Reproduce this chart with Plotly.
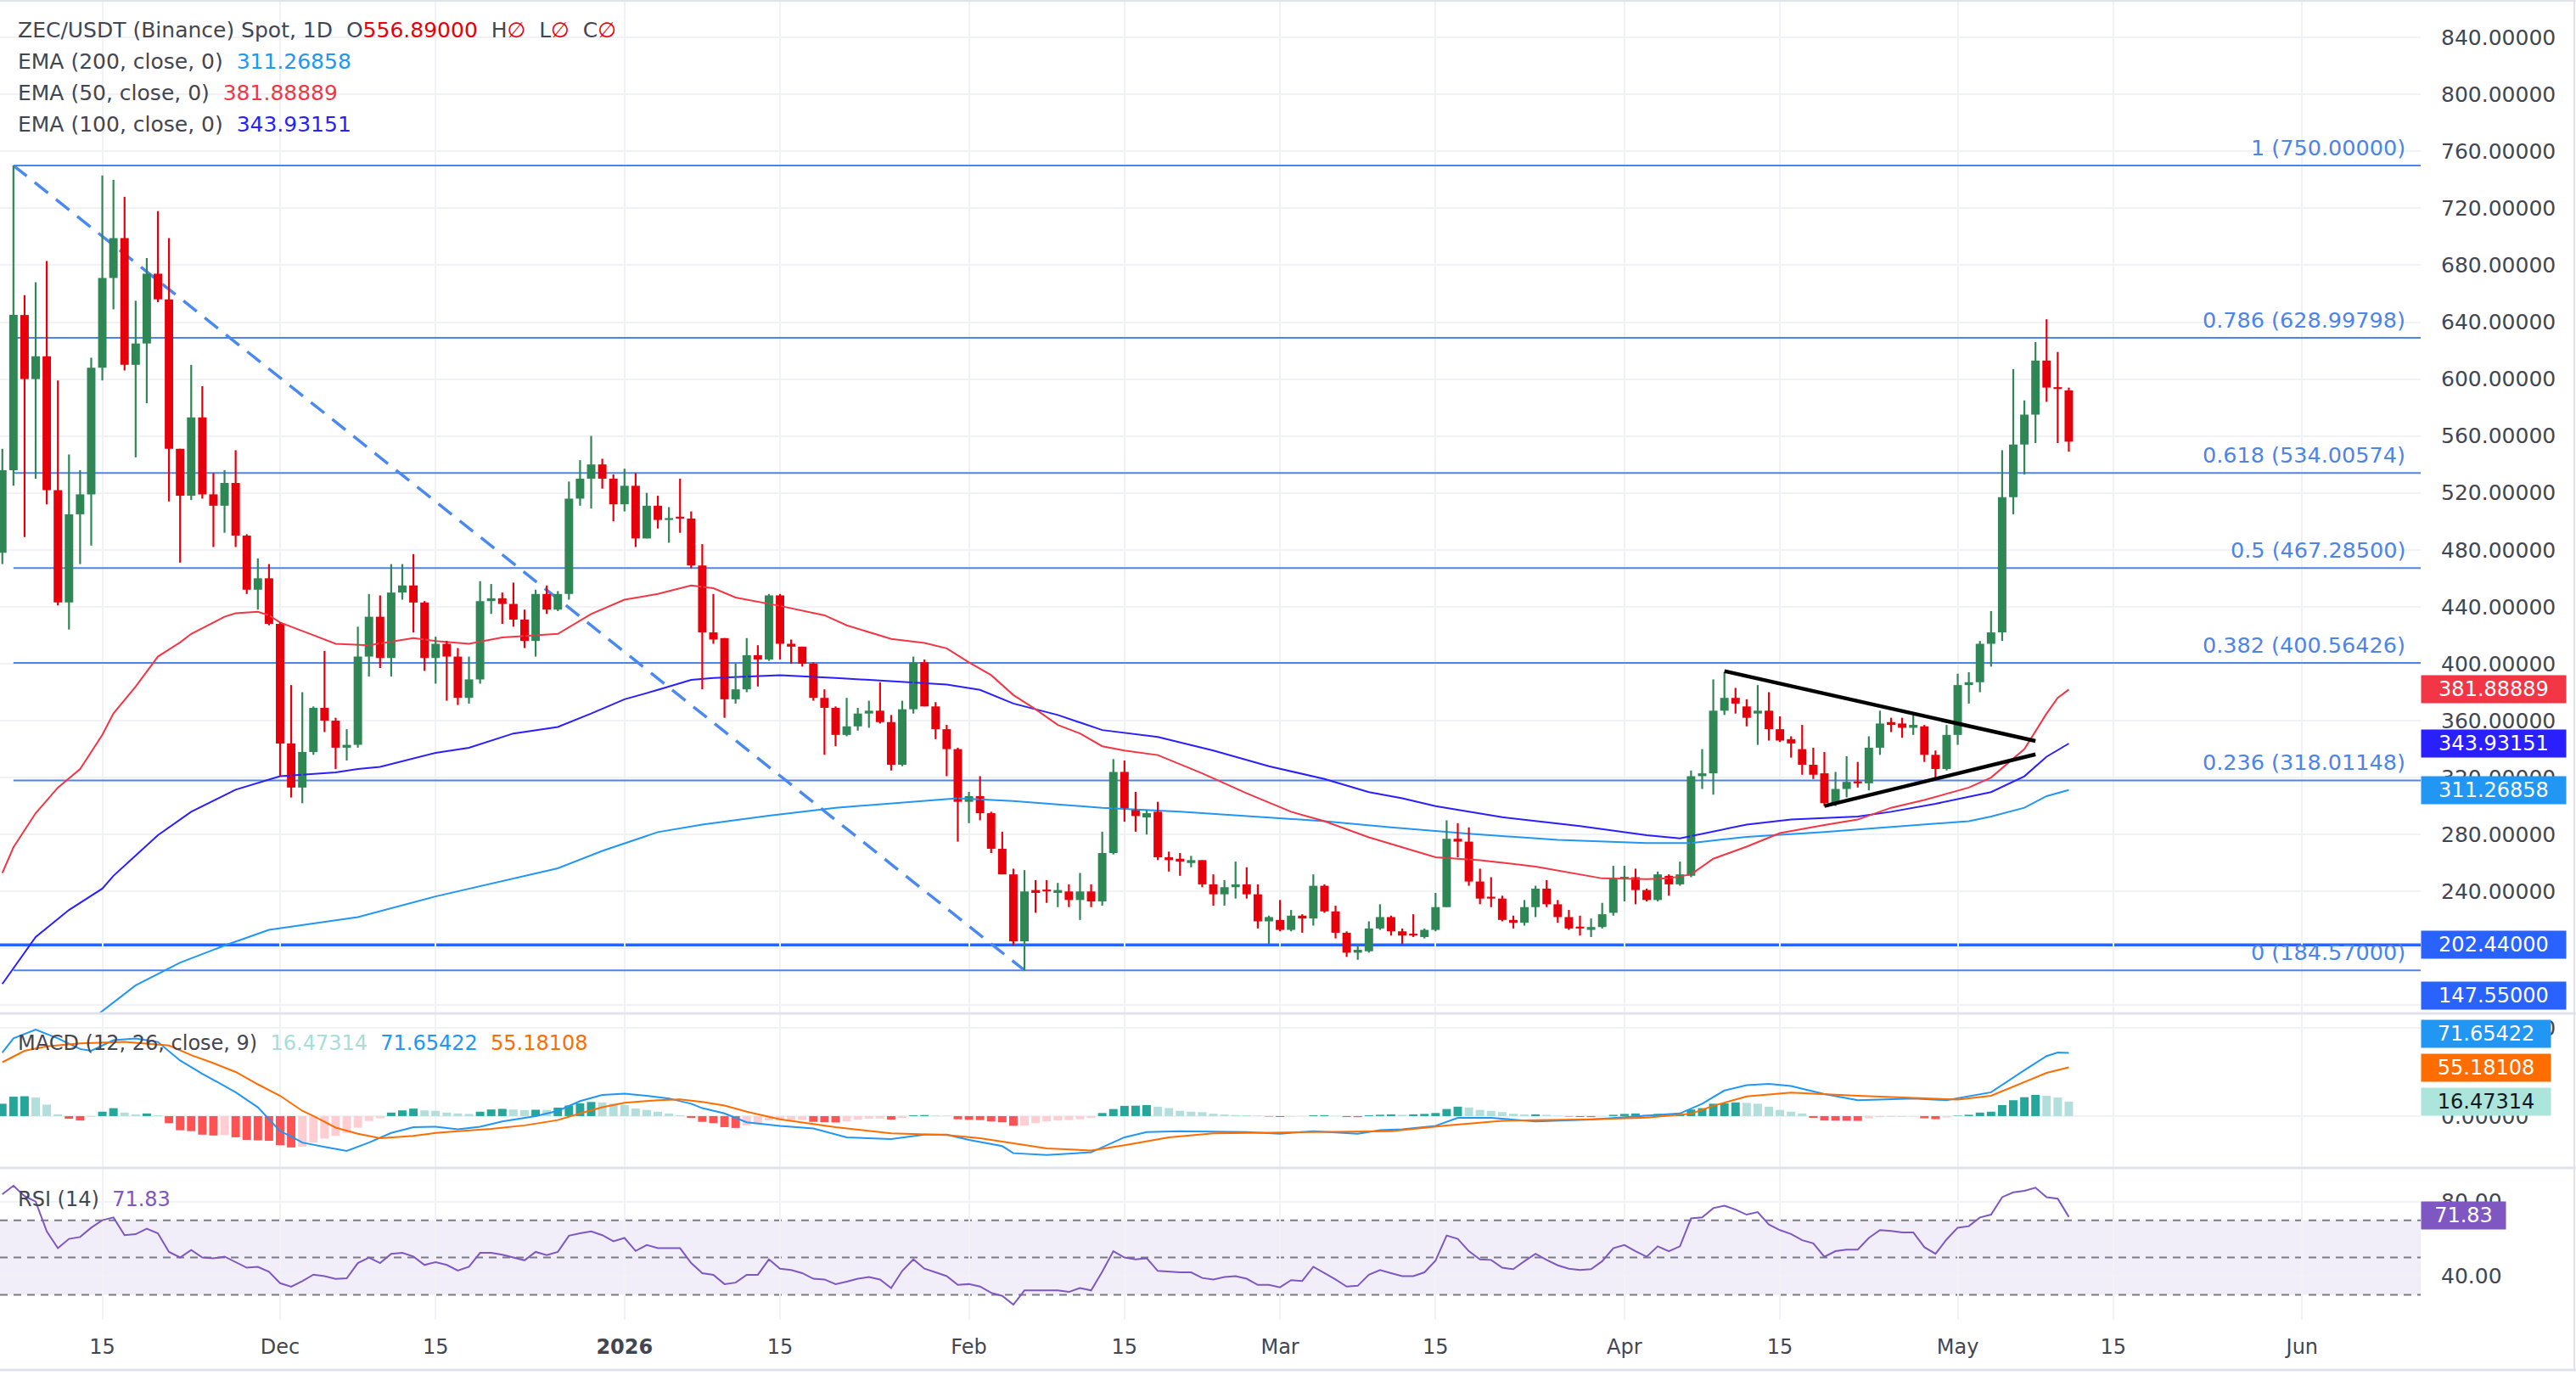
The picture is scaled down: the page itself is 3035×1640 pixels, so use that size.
import pandas as pd
import plotly.graph_objects as go

# ---------------------------------------------------------------- data
start_date = "2025-11-06"
end_date = "2026-05-11"

opens = [
    478, 536, 645, 600, 616, 522, 443, 505, 519, 608, 671, 699, 610, 625, 674, 656, 551, 518, 573, 519, 511, 527, 490, 452, 460,
    428, 344, 313, 338, 369, 360, 341, 343, 405, 433, 404, 450, 455, 443, 404, 414, 405, 376, 389, 444, 446, 442, 431, 416, 449, 438, 449, 516, 530, 540, 530,
    512, 525, 488, 511, 501, 503, 502, 469, 422, 418, 375, 382, 406, 403, 448, 414, 412, 400, 376, 369, 350, 356, 365, 367, 359, 329, 368, 401, 370, 354, 340,
    303, 307, 295, 270, 252, 205, 241, 241, 239, 240, 234, 240, 233, 267, 324, 298, 292, 296, 264, 263, 260, 262, 245, 238, 243, 245, 238, 219,
    220, 213, 223, 221, 244, 226, 211, 197, 198, 214, 222, 212, 210, 208, 213, 229, 277, 275, 247, 236, 235, 220, 218, 229, 242, 231, 222, 215, 213, 215, 225,
    249, 250, 241, 234, 251, 245, 251, 321, 323, 367, 376, 370, 365, 367, 354, 347, 340, 329, 323, 302, 312, 317, 316, 341, 359, 358, 355, 356, 336, 326,
    350, 385, 387, 414, 422, 517, 554, 575, 613, 594, 592,
]
highs = [
    551, 750, 659, 668, 683, 599, 547, 536, 615, 743, 740, 728, 655, 685, 718, 699, 551, 610, 595, 534, 536, 550, 491, 474, 470,
    429, 385, 380, 370, 409, 362, 354, 426, 449, 448, 470, 470, 477, 444, 419, 416, 411, 405, 458, 456, 450, 457, 438, 452, 455, 451, 528, 543, 560, 544, 533,
    537, 534, 520, 518, 510, 530, 507, 484, 449, 418, 400, 418, 413, 449, 449, 417, 412, 401, 382, 370, 376, 369, 374, 387, 364, 374, 405, 403, 373, 357, 341,
    310, 321, 296, 282, 256, 255, 248, 248, 246, 245, 253, 245, 282, 333, 332, 310, 297, 303, 268, 267, 265, 262, 252, 248, 261, 257, 245, 223,
    234, 227, 224, 252, 245, 230, 212, 203, 219, 231, 223, 214, 224, 214, 239, 290, 288, 285, 256, 250, 237, 223, 234, 244, 248, 234, 227, 223, 221, 232, 258,
    258, 256, 242, 254, 252, 261, 325, 340, 389, 394, 383, 375, 385, 380, 363, 349, 357, 341, 338, 324, 335, 331, 349, 367, 362, 362, 364, 357, 339, 357,
    393, 394, 416, 437, 550, 607, 585, 626, 642, 619, 594,
]
lows = [
    470, 525, 489, 530, 512, 441, 424, 470, 483, 599, 649, 606, 545, 583, 654, 514, 471, 515, 516, 482, 492, 482, 449, 438, 427,
    321, 306, 302, 336, 352, 326, 332, 341, 391, 397, 391, 445, 422, 395, 386, 374, 371, 372, 386, 435, 428, 426, 411, 405, 435, 437, 445, 511, 509, 523, 500,
    507, 482, 488, 495, 485, 492, 467, 382, 414, 362, 372, 380, 384, 402, 403, 400, 398, 374, 336, 342, 349, 353, 355, 358, 325, 328, 365, 370, 347, 321, 275,
    288, 290, 267, 252, 202, 184.57, 225, 232, 229, 229, 220, 229, 230, 266, 289, 282, 280, 262, 254, 251, 257, 243, 230, 230, 235, 235, 214, 203,
    212, 212, 211, 216, 225, 207, 194, 192, 197, 213, 209, 203, 208, 207, 212, 229, 264, 244, 231, 229, 219, 214, 216, 222, 229, 218, 213, 209, 208, 214, 223,
    233, 231, 233, 233, 237, 244, 250, 312, 308, 364, 365, 356, 343, 346, 345, 334, 322, 319, 300, 300, 306, 313, 311, 336, 352, 348, 350, 331, 318, 325,
    343, 372, 380, 398, 416, 505, 533, 555, 584, 555, 549,
]
closes = [
    536, 645, 600, 616, 522, 443, 505, 519, 608, 671, 699, 610, 625, 674, 656, 551, 518, 573, 519, 511, 527, 490, 452, 460, 428,
    344, 313, 338, 369, 360, 341, 343, 405, 433, 404, 450, 455, 443, 404, 414, 405, 376, 389, 444, 446, 442, 431, 416, 449, 438, 449, 516, 530, 540, 530, 512,
    525, 488, 511, 501, 502, 502, 469, 422, 417, 375, 382, 406, 403, 448, 414, 412, 400, 376, 369, 350, 356, 365, 367, 359, 329, 368, 401, 370, 354, 340, 303,
    307, 295, 270, 252, 205, 240, 239, 240, 241, 234, 240, 233, 267, 324, 298, 293, 295, 264, 262, 261, 262, 245, 238, 243, 245, 238, 219, 222,
    213, 223, 221, 244, 226, 211, 197, 199, 214, 222, 212, 209, 209, 213, 229, 277, 275, 247, 235, 235, 220, 218, 229, 242, 231, 222, 214, 214, 215, 224, 249,
    250, 241, 234, 252, 245, 252, 321, 323, 367, 376, 372, 362, 367, 354, 346, 344, 329, 322, 302, 312, 317, 316, 341, 358, 357, 355, 357, 336, 326, 350,
    385, 387, 414, 422, 517, 554, 575, 613, 594, 593, 556,
]

ema50_dates = ["2025-11-06", "2025-11-07", "2025-11-09", "2025-11-11", "2025-11-13", "2025-11-15", "2025-11-16", "2025-11-18",
               "2025-11-20", "2025-11-22", "2025-11-23", "2025-11-26", "2025-11-27", "2025-11-29", "2025-11-30", "2025-12-01",
               "2025-12-04", "2025-12-06", "2025-12-09", "2025-12-13", "2025-12-15", "2025-12-18", "2025-12-21", "2025-12-26",
               "2025-12-29", "2026-01-01", "2026-01-04", "2026-01-07", "2026-01-09", "2026-01-11", "2026-01-15", "2026-01-19",
               "2026-01-21", "2026-01-25", "2026-01-28", "2026-01-30", "2026-02-01", "2026-02-03", "2026-02-05", "2026-02-07",
               "2026-02-09", "2026-02-11", "2026-02-13", "2026-02-15", "2026-02-18", "2026-02-22", "2026-02-26", "2026-03-02",
               "2026-03-05", "2026-03-09", "2026-03-12", "2026-03-15", "2026-03-19", "2026-03-24", "2026-03-30", "2026-04-03",
               "2026-04-05", "2026-04-07", "2026-04-09", "2026-04-12", "2026-04-15", "2026-04-19", "2026-04-22", "2026-04-25",
               "2026-04-28", "2026-05-02", "2026-05-04", "2026-05-07", "2026-05-09", "2026-05-10", "2026-05-11"]
ema50_vals = [253, 271, 295, 313, 326, 350, 365, 384, 405, 415, 421, 433, 435.5, 436.5, 434, 429, 420, 414, 413, 418, 416, 414,
              418.5, 421, 435, 445, 449, 455, 453, 446.5, 440.6, 434, 427, 417.4, 414.6, 410.8, 401, 392, 378, 368, 357, 351,
              342, 339, 335.8, 323, 309, 296, 289.4, 278, 271, 264, 262, 257.5, 249.2, 248.6, 249.2, 252, 263, 271.5, 281,
              286.7, 290.5, 298.8, 304.3, 313, 320, 340, 365, 376, 381.89]

ema100_dates = ["2025-11-06", "2025-11-09", "2025-11-12", "2025-11-15", "2025-11-16", "2025-11-20", "2025-11-23", "2025-11-27",
                "2025-12-01", "2025-12-06", "2025-12-08", "2025-12-10", "2025-12-15", "2025-12-18", "2025-12-22", "2025-12-26",
                "2025-12-29", "2026-01-01", "2026-01-04", "2026-01-07", "2026-01-09", "2026-01-15", "2026-01-20", "2026-01-27",
                "2026-01-30", "2026-02-02", "2026-02-05", "2026-02-09", "2026-02-13", "2026-02-18", "2026-02-23", "2026-02-28",
                "2026-03-05", "2026-03-09", "2026-03-12", "2026-03-15", "2026-03-21", "2026-03-28", "2026-04-03", "2026-04-06",
                "2026-04-09", "2026-04-12", "2026-04-16", "2026-04-22", "2026-04-25", "2026-04-29", "2026-05-04", "2026-05-07",
                "2026-05-09", "2026-05-11"]
ema100_vals = [175, 208, 227, 242, 251, 279.5, 296, 311.5, 321, 323.6, 326, 327.5, 337.4, 341, 351, 355.6, 365, 375, 381.6,
               388.7, 390, 392, 390, 387, 385.4, 381.6, 372, 364, 353.4, 348.5, 339, 328, 319, 309.8, 305.5, 300, 292.2, 286,
               279.5, 277.3, 282.3, 287, 290.5, 292.7, 296, 301.6, 309.8, 320.9, 334.7, 343.93]

ema200_dates = ["2025-11-14", "2025-11-16", "2025-11-18", "2025-11-22", "2025-11-26", "2025-11-30", "2025-12-04", "2025-12-08",
                "2025-12-15", "2025-12-22", "2025-12-26", "2025-12-30", "2026-01-04", "2026-01-08", "2026-01-14", "2026-01-20",
                "2026-01-27", "2026-01-31", "2026-02-05", "2026-02-09", "2026-02-13", "2026-02-20", "2026-02-28", "2026-03-05",
                "2026-03-11", "2026-03-18", "2026-03-26", "2026-04-03", "2026-04-07", "2026-04-12", "2026-04-19", "2026-04-26",
                "2026-05-02", "2026-05-04", "2026-05-07", "2026-05-09", "2026-05-11"]
ema200_vals = [150, 162, 174, 190, 202, 213, 217.5, 222, 236.5, 249, 256.3, 268.5, 281.7, 287, 293.3, 298.8, 303.2, 305.4,
               303.5, 301, 298.8, 296, 292.2, 289.4, 285, 280.6, 276.2, 274, 274, 278.4, 281.7, 286, 289.4, 292.7, 298.8, 307,
               311.27]

macd_dates = ["2025-11-06", "2025-11-07", "2025-11-09", "2025-11-11", "2025-11-13", "2025-11-14", "2025-11-16", "2025-11-18",
              "2025-11-20", "2025-11-22", "2025-11-24", "2025-11-25", "2025-11-27", "2025-11-29", "2025-12-01", "2025-12-02",
              "2025-12-03", "2025-12-05", "2025-12-07", "2025-12-09", "2025-12-11", "2025-12-13", "2025-12-15", "2025-12-17",
              "2025-12-19", "2025-12-21", "2025-12-24", "2025-12-26", "2025-12-28", "2025-12-30", "2026-01-01", "2026-01-03",
              "2026-01-05", "2026-01-07", "2026-01-08", "2026-01-10", "2026-01-12", "2026-01-15", "2026-01-18", "2026-01-21",
              "2026-01-25", "2026-01-28", "2026-01-30", "2026-02-01", "2026-02-04", "2026-02-05", "2026-02-08", "2026-02-12",
              "2026-02-14", "2026-02-15", "2026-02-17", "2026-02-20", "2026-02-26", "2026-03-01", "2026-03-04", "2026-03-08",
              "2026-03-10", "2026-03-12", "2026-03-15", "2026-03-17", "2026-03-20", "2026-03-24", "2026-03-29", "2026-04-03",
              "2026-04-06", "2026-04-08", "2026-04-10", "2026-04-12", "2026-04-14", "2026-04-16", "2026-04-19", "2026-04-22",
              "2026-04-27", "2026-04-30", "2026-05-04", "2026-05-07", "2026-05-09", "2026-05-10", "2026-05-11"]
macd_vals = [72, 88, 98, 88, 76, 74, 86, 88, 84, 63, 48, 41, 27, 10, -17, -23, -30, -35, -39.5, -30, -19, -12.5, -12, -15,
             -12, -6, 0, 6, 17, 24, 25.5, 23, 20, 14, 9, 3, -7, -11, -14, -24, -26, -21, -21, -27, -34, -42, -44, -41, -30,
             -24, -18, -17, -18, -20, -17, -20, -16, -15, -11, -2, -2, -6, -4, 0, 3, 14, 29, 35, 36.5, 34, 25, 18, 20, 18,
             27, 52, 68, 72, 71.65]

signal_dates = ["2025-11-06", "2025-11-08", "2025-11-10", "2025-11-13", "2025-11-17", "2025-11-21", "2025-11-23", "2025-11-25",
                "2025-11-27", "2025-11-29", "2025-12-01", "2025-12-03", "2025-12-04", "2025-12-06", "2025-12-08", "2025-12-10",
                "2025-12-13", "2025-12-15", "2025-12-17", "2025-12-20", "2025-12-23", "2025-12-26", "2025-12-28", "2025-12-30",
                "2026-01-01", "2026-01-04", "2026-01-06", "2026-01-08", "2026-01-10", "2026-01-12", "2026-01-15", "2026-01-20",
                "2026-01-25", "2026-01-30", "2026-02-02", "2026-02-05", "2026-02-08", "2026-02-12", "2026-02-15", "2026-02-19",
                "2026-02-23", "2026-02-28", "2026-03-05", "2026-03-11", "2026-03-16", "2026-03-21", "2026-03-29", "2026-04-03",
                "2026-04-07", "2026-04-09", "2026-04-12", "2026-04-16", "2026-04-22", "2026-04-27", "2026-05-01", "2026-05-04",
                "2026-05-07", "2026-05-09", "2026-05-11"]
signal_vals = [61, 74, 79, 82.5, 84, 80, 69, 60, 50, 36, 23, 6, 0, -13, -20, -25, -22.5, -19, -17, -14.5, -10.5, -4.5, 3, 10,
               15, 18, 19, 16, 12, 5, -3.6, -12.5, -19.6, -21.4, -25, -31, -36.5, -39, -33, -24, -19.6, -18.7, -17.8, -17,
               -10.7, -5.3, -3.6, -1.8, 2.7, 11.6, 22.3, 26.7, 23, 20.5, 18.7, 23, 38.3, 49, 55.18]

macd_hist = [
    14, 22, 22.5, 21, 13, 2, -3, -5, -1, 5, 9, 4, 2, 3, 1, -8, -16, -17, -21, -22, -21.5, -24, -27, -27.5, -28,
    -33, -35.5, -34.5, -30, -25.5, -22.5, -19, -13, -5.5, -2.5, 4, 6.5, 8.5, 6.5, 6, 4, 3, 2.5, 5, 7.5, 8.2, 7.4, 6.8, 7.2, 7, 9.6, 12, 14.4, 16, 15.4, 14,
    12.8, 8.6, 7, 5, 3, 1, -2, -6.5, -8, -12.5, -13.4, -10.7, -9, -5, -4.8, -4.6, -4.5, -6.5, -7, -7.2, -6, -4, -3, -2.8, -4, -2, 1, 1.2, 0.6, 0.4, -3.6,
    -4.2, -4.5, -6, -7, -11, -10.8, -8, -6, -5, -4.5, -3.5, -2, 3.5, 8, 11.6, 11.8, 12.5, 10.7, 9, 6, 5, 4.5, 2.7, 1.8, 1.2, 1, 0.5, -0.5,
    -1, -0.6, -0.3, 1, 1.1, 0.3, -1, -1.2, 1, 1.5, 2, 1.5, 2, 2.5, 3.5, 8, 10.7, 9.8, 7, 6, 4.5, 2.7, 1.8, 2, 1.5, 0.5, -0.5, -1, -1.1, -0.5, 1.5,
    2.5, 3, 2, 2.5, 2, 2.2, 7.5, 9, 14, 14.5, 15.5, 15, 14, 10.7, 7, 5, 3, -2, -5, -5.2, -5.3, -5.4, -2.5, -1.2, -1, -0.9, -0.5, -2.5, -3.5, -1.5,
    0.5, 1.5, 4, 5, 12.5, 18, 21.4, 24, 23, 21, 16.47,
]

rsi_vals = [
    84, 88.5, 83, 80, 64, 55, 60, 61, 66, 70, 71.5, 62, 62.5, 65.5, 63, 53, 50, 54, 50, 49.5, 50.5, 47.5, 44.5, 45, 42.3,
    36.2, 34.3, 37.3, 40.8, 40, 38.5, 38.8, 47, 50, 47, 52, 52.5, 50.5, 46, 47.5, 46, 43, 45, 52.5, 52.5, 51.5, 50, 48.5, 53, 51.3, 53, 61.7, 63, 64, 62, 58.7,
    60.5, 53.5, 56.7, 55, 55, 55, 47, 41.6, 40.7, 35.7, 36.5, 40.7, 40.7, 49, 44, 43.3, 41.6, 38.6, 38.2, 35.7, 37, 38.6, 39.5, 38.2, 33.6, 42.8, 49, 44, 42, 40, 35.3,
    35.7, 34.4, 31, 29.4, 24.7, 32.3, 32.3, 32.3, 32.3, 31.5, 33.6, 32.3, 42.4, 53.4, 50, 49, 49.6, 42.8, 42.4, 42, 42, 39, 38.2, 39.5, 40, 38.6, 35.3, 35.3,
    34, 37.8, 37.4, 45, 41.6, 38.2, 34.4, 34.8, 40.7, 43.3, 41.6, 40, 40, 42, 48.3, 61.8, 60, 53.4, 49, 48.7, 44.5, 43.7, 48, 52, 48.7, 45.8, 44, 43.3, 43.7, 48, 55,
    56.7, 53.4, 50.4, 56, 53.4, 56, 71, 71.5, 76.5, 77.8, 75.7, 73, 74.4, 67.7, 64.7, 62.6, 59.3, 57.6, 50.4, 53.4, 54.2, 54.2, 60.5, 64.7, 64.3, 63.5, 63.5, 55.5, 52, 59.7,
    66, 66.8, 71.5, 73, 82.4, 85, 85.8, 87.5, 82.4, 81.6, 71.83,
]

fib_ratios = ["1", "0.786", "0.618", "0.5", "0.382", "0.236", "0"]
fib_levels = [750.0, 628.99798, 534.00574, 467.285, 400.56426, 318.01148, 184.57]
fib_anchor_dates = ["2025-11-07", "2026-02-06"]
support_level = 202.44
offscreen_level = 147.55
tri_upper_dates = ["2026-04-10", "2026-05-08"]
tri_upper_vals = [394.8, 345.7]
tri_lower_dates = ["2026-04-19", "2026-05-08"]
tri_lower_vals = [300.0, 336.3]

x_tick_dates = ["2025-11-15", "2025-12-01", "2025-12-15", "2026-01-01", "2026-01-15", "2026-02-01", "2026-02-15",
                "2026-03-01", "2026-03-15", "2026-04-01", "2026-04-15", "2026-05-01", "2026-05-15", "2026-06-01"]
x_tick_text = ["15", "Dec", "15", "<b>2026</b>", "15", "Feb", "15", "Mar", "15", "Apr", "15", "May", "15", "Jun"]
price_ticks = list(range(160, 841, 40))
price_ticks_hidden = [160, 200]      # covered by the coloured price labels

last_open = 556.89
ema200_last, ema50_last, ema100_last = 311.26858, 381.88889, 343.93151
macd_last, signal_last, hist_last = 71.65422, 55.18108, 16.47314
rsi_last = 71.83

# ---------------------------------------------------------------- geometry / style
W, H = 3035, 1640
MR, MB = 183, 85
PW, PH = W - MR, H - MB          # plot area 2852 x 1555


def py(pix):                      # paper y from pixel row (top origin)
    return (PH - pix) / PH


def pxp(pix):                     # paper x from pixel column
    return pix / PW


FONT = "DejaVu Sans"
TEXT = "#434651"
GRID = "#F0F2F6"
GREEN, RED = "#2E8754", "#E5000C"
C_EMA50, C_EMA100, C_EMA200 = "#F23645", "#2A1FFF", "#2196F3"
FIB = "#4C84E8"

dates = pd.date_range(start_date, end_date, freq="D")
assert len(dates) == len(opens) == len(highs) == len(lows) == len(closes) == len(macd_hist) == len(rsi_vals)
assert len(ema50_dates) == len(ema50_vals) and len(ema100_dates) == len(ema100_vals)
assert len(ema200_dates) == len(ema200_vals) and len(macd_dates) == len(macd_vals)
assert len(signal_dates) == len(signal_vals)

ref_day = pd.Timestamp("2025-12-01")
x_start = ref_day - pd.Timedelta(days=25.21)
x_end = ref_day + pd.Timedelta(days=192.67)
DAY_MS = 86400000
BAR_W = 0.76 * DAY_MS

fig = go.Figure()

# EMAs
for dts, vals, col in [(ema200_dates, ema200_vals, C_EMA200), (ema100_dates, ema100_vals, C_EMA100),
                       (ema50_dates, ema50_vals, C_EMA50)]:
    fig.add_trace(go.Scatter(x=dts, y=vals, mode="lines", line=dict(color=col, width=2),
                             xaxis="x", yaxis="y", hoverinfo="skip"))

# candles: wicks
for up in (True, False):
    wx, wy = [], []
    for d, o, h, l, c in zip(dates, opens, highs, lows, closes):
        if (c >= o) == up:
            wx += [d, d, None]
            wy += [l, h, None]
    fig.add_trace(go.Scatter(x=wx, y=wy, mode="lines", line=dict(color=GREEN if up else RED, width=2.2),
                             xaxis="x", yaxis="y", hoverinfo="skip"))

# candles: bodies
body_base = [min(o, c) for o, c in zip(opens, closes)]
body_h = [max(abs(c - o), 1.3) for o, c in zip(opens, closes)]
body_col = [GREEN if c >= o else RED for o, c in zip(opens, closes)]
fig.add_trace(go.Bar(x=dates, y=body_h, base=body_base, width=BAR_W, marker=dict(color=body_col, line=dict(width=0)),
                     xaxis="x", yaxis="y", hoverinfo="skip"))

# triangle
for dts, vals in [(tri_upper_dates, tri_upper_vals), (tri_lower_dates, tri_lower_vals)]:
    fig.add_trace(go.Scatter(x=dts, y=vals, mode="lines", line=dict(color="#000000", width=4.5),
                             xaxis="x", yaxis="y", hoverinfo="skip"))

# MACD histogram
hist_col = []
prev = None
for v in macd_hist:
    grow = prev is None or v > prev
    if v >= 0:
        hist_col.append("#26A69A" if grow else "#B2DFDB")
    else:
        hist_col.append("#FFCDD2" if grow else "#FF5252")
    prev = v
fig.add_trace(go.Bar(x=dates, y=macd_hist, width=BAR_W, marker=dict(color=hist_col, line=dict(width=0)),
                     xaxis="x", yaxis="y2", hoverinfo="skip"))
fig.add_trace(go.Scatter(x=macd_dates, y=macd_vals, mode="lines", line=dict(color="#2196F3", width=2),
                         xaxis="x", yaxis="y2", hoverinfo="skip"))
fig.add_trace(go.Scatter(x=signal_dates, y=signal_vals, mode="lines", line=dict(color="#FF6D00", width=2),
                         xaxis="x", yaxis="y2", hoverinfo="skip"))

# RSI
fig.add_trace(go.Scatter(x=dates, y=rsi_vals, mode="lines", line=dict(color="#7E57C2", width=2),
                         xaxis="x", yaxis="y3", hoverinfo="skip"))

# ---------------------------------------------------------------- shapes
shapes = []
for lvl in fib_levels:
    shapes.append(dict(type="line", xref="x", yref="y", x0=fib_anchor_dates[0], x1=x_end, y0=lvl, y1=lvl,
                       line=dict(color=FIB, width=2), layer="between"))
shapes.append(dict(type="line", xref="x", yref="y", x0=fib_anchor_dates[0], x1=fib_anchor_dates[1],
                   y0=fib_levels[0], y1=fib_levels[-1], line=dict(color="#4A89F0", width=3.5, dash="20px,12px"),
                   layer="between"))
shapes.append(dict(type="line", xref="paper", yref="y", x0=0, x1=1, y0=support_level, y1=support_level,
                   line=dict(color="#2962FF", width=3.5), layer="between"))
# RSI band and levels
shapes.append(dict(type="rect", xref="paper", yref="y3", x0=0, x1=1, y0=30, y1=70,
                   fillcolor="rgba(126,87,194,0.10)", line=dict(width=0), layer="below"))
for lv in (70, 50, 30):
    shapes.append(dict(type="line", xref="paper", yref="y3", x0=0, x1=1, y0=lv, y1=lv,
                       line=dict(color="#787B86", width=2, dash="9px,7px"), layer="between"))
# pane separators / frame
right_edge = W / PW
for row in (1194, 1376):
    shapes.append(dict(type="line", xref="paper", yref="paper", x0=0, x1=right_edge, y0=py(row), y1=py(row),
                       line=dict(color="#E0E3EB", width=3), layer="above"))
shapes.append(dict(type="line", xref="paper", yref="paper", x0=0, x1=right_edge, y0=py(1614), y1=py(1614),
                   line=dict(color="#E0E3EB", width=3), layer="above"))
shapes.append(dict(type="line", xref="paper", yref="paper", x0=0, x1=right_edge, y0=py(1), y1=py(1),
                   line=dict(color="#E0E3EB", width=2), layer="above"))
shapes.append(dict(type="line", xref="paper", yref="paper", x0=pxp(W - 2), x1=pxp(W - 2), y0=py(0), y1=py(1614),
                   line=dict(color="#E0E3EB", width=2), layer="above"))

# ---------------------------------------------------------------- annotations
ann = []
sp = "\u00a0"


def legend_line(row, html):
    ann.append(dict(xref="paper", yref="paper", x=pxp(19), y=py(row), xanchor="left", yanchor="middle",
                    text=html, showarrow=False, font=dict(family=FONT, size=25, color=TEXT)))


red_span = lambda s: f"<span style='color:#E5000C'>{s}</span>"
legend_line(36, f"ZEC/USDT (Binance) Spot, 1D{sp*2}O{red_span(f'{last_open:.5f}')}{sp*2}H{red_span('∅')}{sp*2}"
                f"L{red_span('∅')}{sp*2}C{red_span('∅')}")
legend_line(73, f"EMA (200, close, 0){sp*2}<span style='color:{C_EMA200}'>{ema200_last:.5f}</span>")
legend_line(109, f"EMA (50, close, 0){sp*2}<span style='color:{C_EMA50}'>{ema50_last:.5f}</span>")
legend_line(146, f"EMA (100, close, 0){sp*2}<span style='color:{C_EMA100}'>{ema100_last:.5f}</span>")
ann.append(dict(xref="paper", yref="paper", x=pxp(19), y=py(1229), xanchor="left", yanchor="middle", showarrow=False,
                font=dict(family=FONT, size=24, color=TEXT),
                text=f"MACD (12, 26, close, 9){sp*2}<span style='color:#A8DDD5'>{hist_last:.5f}</span>{sp*2}"
                     f"<span style='color:#2196F3'>{macd_last:.5f}</span>{sp*2}"
                     f"<span style='color:#FF6D00'>{signal_last:.5f}</span>"))
ann.append(dict(xref="paper", yref="paper", x=pxp(19), y=py(1413), xanchor="left", yanchor="middle", showarrow=False,
                font=dict(family=FONT, size=24, color=TEXT),
                text=f"RSI (14){sp*2}<span style='color:#7E57C2'>{rsi_last:.2f}</span>"))

# fib labels
for r, lvl in zip(fib_ratios, fib_levels):
    ann.append(dict(xref="paper", yref="y", x=pxp(2836), y=lvl, xanchor="right", yanchor="bottom", yshift=4,
                    text=f"{r} ({lvl:.5f})", showarrow=False, font=dict(family=FONT, size=25.5, color=FIB)))


def axis_box(yref, yval, text, bg, fg, width):
    ann.append(dict(xref="paper", yref=yref, x=1.0, y=yval, xanchor="left", yanchor="middle", text=text,
                    showarrow=False, bgcolor=bg, font=dict(family=FONT, size=24, color=fg), width=width,
                    height=30, align="center", borderpad=1))


axis_box("y", ema50_last, f"{ema50_last:.5f}", C_EMA50, "white", 168)
axis_box("y", ema100_last, f"{ema100_last:.5f}", C_EMA100, "white", 168)
axis_box("y", ema200_last, f"{ema200_last:.5f}", C_EMA200, "white", 168)
axis_box("y", support_level, f"{support_level:.5f}", "#2962FF", "white", 168)
axis_box("y", 166.8, f"{offscreen_level:.5f}", "#2962FF", "white", 168)       # pinned at pane bottom
axis_box("y2", 93.0, f"{macd_last:.5f}", "#2196F3", "white", 150)             # pushed up to avoid overlap
axis_box("y2", signal_last, f"{signal_last:.5f}", "#FF6D00", "white", 150)
axis_box("y2", hist_last, f"{hist_last:.5f}", "#ACE5DC", "#131722", 150)
axis_box("y3", 72.8, f"{rsi_last:.2f}", "#7E57C2", "white", 97)

# ---------------------------------------------------------------- layout
tickfont = dict(family=FONT, size=24, color=TEXT)
common_y = dict(side="right", anchor="x", showgrid=True, gridcolor=GRID, gridwidth=2, zeroline=False, showline=False,
                ticks="outside", ticklen=18, tickcolor="rgba(0,0,0,0)", tickfont=dict(family=FONT, size=25, color=TEXT),
                automargin=False, fixedrange=True)

fig.update_layout(
    template="none",
    width=W, height=H,
    margin=dict(l=0, r=MR, t=0, b=MB, pad=0),
    paper_bgcolor="white", plot_bgcolor="white",
    showlegend=False, barmode="overlay", hovermode=False,
    xaxis=dict(type="date", range=[x_start, x_end], anchor="y3", tickmode="array", tickvals=x_tick_dates,
               ticktext=x_tick_text, showgrid=True, gridcolor=GRID, gridwidth=2, zeroline=False, showline=False,
               ticks="outside", ticklen=10, tickcolor="rgba(0,0,0,0)", tickfont=tickfont, automargin=False,
               fixedrange=True),
    yaxis=dict(domain=[py(1194), 1], range=[154.3, 866.3], tickmode="array", tickvals=price_ticks,
               ticktext=["" if v in price_ticks_hidden else f"{v:.5f}" for v in price_ticks], **common_y),
    yaxis2=dict(domain=[py(1376), py(1194)], range=[-58.7, 116.3], tickmode="array", tickvals=[0, 100],
                ticktext=["0.00000", "100.00000"], **common_y),
    yaxis3=dict(domain=[0, py(1376)], range=[16.5, 98.1], tickmode="array", tickvals=[40, 80],
                ticktext=["40.00", "80.00"], **common_y),
    shapes=shapes,
    annotations=ann,
)

fig.write_html("out.html", config={"displayModeBar": False, "staticPlot": True},
               post_script="document.body.style.margin='0';document.body.style.padding='0';")
